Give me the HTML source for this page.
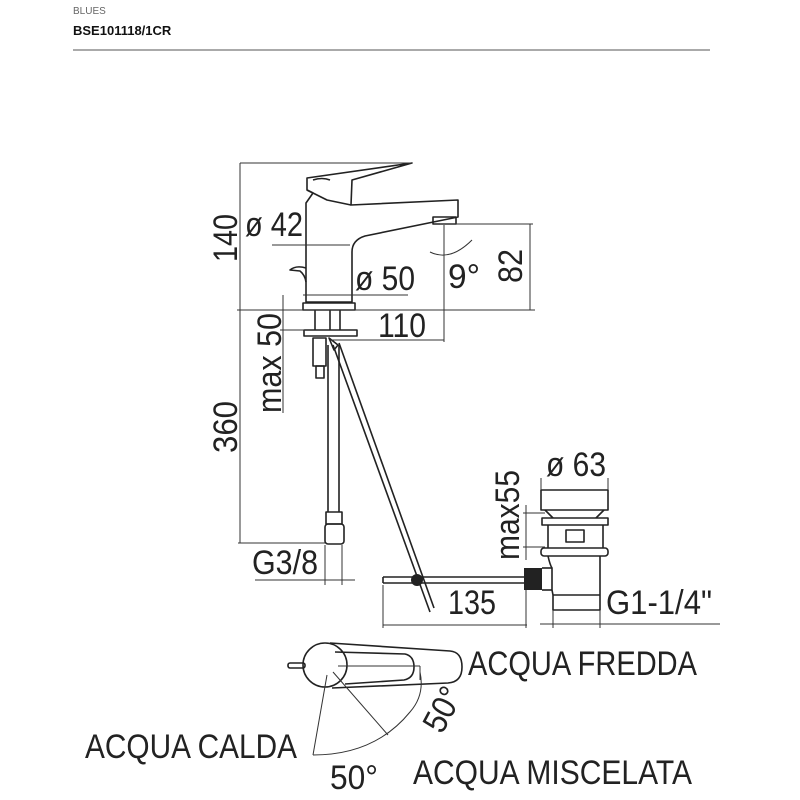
<!DOCTYPE html>
<html><head><meta charset="utf-8"><style>html,body{margin:0;padding:0;background:#fff}svg{display:block}</style></head><body>
<svg width="800" height="800" viewBox="0 0 800 800" xmlns="http://www.w3.org/2000/svg" font-family="Liberation Sans, sans-serif">
<text x="73" y="14" font-size="10" fill="#666">BLUES</text>
<text x="73" y="35" font-size="13" font-weight="bold" fill="#111">BSE101118/1CR</text>
<line x1="73" y1="50" x2="710" y2="50" stroke="#555" stroke-width="1"/>
<g fill="none" stroke="#222" stroke-width="1.6" stroke-linejoin="round">
<path d="M307 178 L412 163 L352 180 L351 205 L458 200 L458 217 L365 236 Q352 240 352 252 L352 302 L306 302 L306 203 L313 193 L307 190 Z"/>
<path d="M307 190 L327 200 L351 205"/>
<path d="M313 180 Q322 177 330 180"/>
<rect x="433" y="217" width="23" height="7"/>
<path d="M306 268 Q296 265 290 270 L300 271 Q305 275 306 282"/>
<rect x="303" y="303" width="52" height="7"/>
<rect x="304" y="330" width="53" height="6"/>
<line x1="315" y1="310" x2="315" y2="330"/><line x1="330" y1="310" x2="330" y2="330"/>
<line x1="340" y1="310" x2="340" y2="330"/>
<rect x="313" y="338" width="13" height="28"/><rect x="316" y="366" width="8" height="12"/>
<line x1="328" y1="345" x2="328" y2="512"/><line x1="339" y1="345" x2="339" y2="512"/>
<rect x="326" y="512" width="16" height="12"/><rect x="325" y="524" width="19" height="20" rx="3"/>
<path d="M329 338 L338 345 L334 350 Z"/>
<line x1="333" y1="345" x2="430" y2="612"/><line x1="339" y1="343" x2="434" y2="608"/>
<line x1="383" y1="577" x2="524" y2="577"/><line x1="383" y1="583" x2="524" y2="583"/>
<line x1="383" y1="577" x2="383" y2="583"/>
<rect x="541" y="490" width="67" height="20"/>
<path d="M545 510 L553 518 M604 510 L596 518"/>
<rect x="542" y="518" width="66" height="7"/>
<path d="M548 525 L548 548 M603 525 L603 548"/>
<rect x="566" y="530" width="18" height="12"/>
<rect x="541" y="548" width="67" height="8" rx="3"/>
<path d="M548 556 Q550 565 552 568 L552 590 L553 595 L553 610 L600 610 L600 556"/>
<line x1="553" y1="595" x2="600" y2="595"/>
<line x1="542" y1="568" x2="552" y2="568"/><line x1="542" y1="590" x2="552" y2="590"/>
</g>
<rect x="524" y="568" width="18" height="22" fill="#222"/>
<circle cx="417" cy="580" r="6" fill="#222"/>
<g stroke="#333" stroke-width="1" fill="none">
<line x1="240" y1="163" x2="412" y2="163"/>
<line x1="240" y1="163" x2="240" y2="543"/>
<line x1="237" y1="310" x2="535" y2="310"/>
<line x1="238" y1="543" x2="325" y2="543"/>
<line x1="272" y1="245" x2="350" y2="245"/>
<line x1="303" y1="295" x2="408" y2="295"/>
<line x1="440" y1="224" x2="533" y2="224"/>
<line x1="530" y1="224" x2="530" y2="310"/>
<line x1="444" y1="225" x2="444" y2="342"/>
<line x1="330" y1="340" x2="444" y2="340"/>
<line x1="283" y1="295" x2="283" y2="413"/>
<line x1="280" y1="330" x2="305" y2="330"/>
<path d="M430 252 Q450 262 472 240"/>
<line x1="255" y1="580" x2="355" y2="580"/>
<line x1="325" y1="545" x2="325" y2="585"/><line x1="342" y1="545" x2="342" y2="585"/>
<line x1="383" y1="585" x2="383" y2="628"/><line x1="526" y1="590" x2="526" y2="628"/>
<line x1="383" y1="625" x2="527" y2="625"/>
<line x1="540" y1="624" x2="720" y2="624"/>
<line x1="553" y1="610" x2="553" y2="628"/><line x1="600" y1="610" x2="600" y2="628"/>
<line x1="541" y1="478" x2="541" y2="490"/><line x1="608" y1="478" x2="608" y2="490"/>
<line x1="523" y1="513" x2="545" y2="513"/><line x1="523" y1="547" x2="545" y2="547"/>
<line x1="526" y1="505" x2="526" y2="560"/>
</g>
<g font-size="34" fill="#222">
<text x="245" y="236" textLength="58" lengthAdjust="spacingAndGlyphs">ø 42</text>
<text x="355" y="290" textLength="60" lengthAdjust="spacingAndGlyphs">ø 50</text>
<text x="448" y="288" textLength="32" lengthAdjust="spacingAndGlyphs">9°</text>
<text x="378" y="337" textLength="48" lengthAdjust="spacingAndGlyphs">110</text>
<text transform="translate(237,262) rotate(-90)" textLength="48" lengthAdjust="spacingAndGlyphs">140</text>
<text transform="translate(522,283) rotate(-90)" textLength="34" lengthAdjust="spacingAndGlyphs">82</text>
<text transform="translate(237,453) rotate(-90)" textLength="52" lengthAdjust="spacingAndGlyphs">360</text>
<text transform="translate(281,413) rotate(-90)" textLength="100" lengthAdjust="spacingAndGlyphs">max 50</text>
<text transform="translate(519,560) rotate(-90)" textLength="90" lengthAdjust="spacingAndGlyphs">max55</text>
<text x="546" y="476" textLength="60" lengthAdjust="spacingAndGlyphs">ø 63</text>
<text x="252" y="574" textLength="66" lengthAdjust="spacingAndGlyphs">G3/8</text>
<text x="448" y="614" textLength="48" lengthAdjust="spacingAndGlyphs">135</text>
<text x="606" y="614" textLength="106" lengthAdjust="spacingAndGlyphs">G1-1/4"</text>
<text x="468" y="675" textLength="229" lengthAdjust="spacingAndGlyphs">ACQUA FREDDA</text>
<text x="85" y="758" textLength="212" lengthAdjust="spacingAndGlyphs">ACQUA CALDA</text>
<text x="413" y="784" textLength="279" lengthAdjust="spacingAndGlyphs">ACQUA MISCELATA</text>
<text x="330" y="789" textLength="48" lengthAdjust="spacingAndGlyphs">50°</text>
<text transform="translate(442,735) rotate(-62)" textLength="46" lengthAdjust="spacingAndGlyphs">50°</text>
</g>
<g fill="none" stroke="#222" stroke-width="1.6">
<circle cx="325" cy="665" r="22"/>
<path d="M330 643 L450 651 Q462 652 462 667 Q462 682 448 683 L332 688"/>
<path d="M335 652 L405 654 Q414 656 414 667 Q414 678 404 680 L345 684"/>
<rect x="288" y="663" width="17" height="5" rx="2"/>
</g>
<g stroke="#333" stroke-width="1" fill="none">
<line x1="338" y1="666" x2="420" y2="666"/>
<line x1="327" y1="675" x2="313" y2="755"/>
<line x1="333" y1="672" x2="388" y2="735"/>
<line x1="420" y1="666" x2="420" y2="680"/>
<path d="M313 755 Q375 755 410 712 Q425 695 420 672"/>
</g>
</svg>
</body></html>
